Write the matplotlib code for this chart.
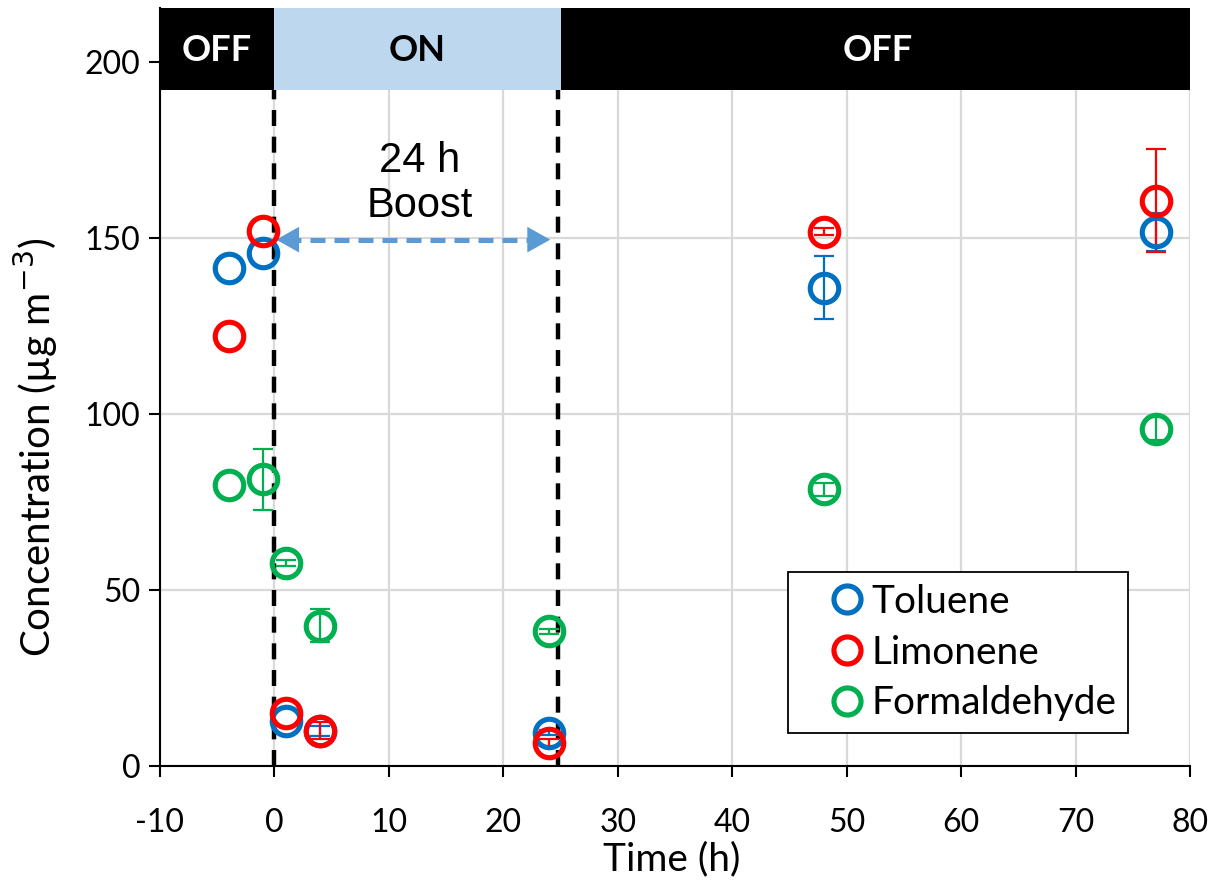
import matplotlib
matplotlib.use("Agg")
import matplotlib.pyplot as plt
import numpy as np

plt.rcParams["axes.unicode_minus"] = False

# ---- data ----
time_h = [-4, -1, 1, 4, 24, 48, 77]
toluene = [141.4, 145.6, 12.8, 10.0, 9.5, 135.9, 151.8]
toluene_err = [0, 0, 0, 1.5, 0.8, 9.0, 5.4]
limonene = [122.2, 152.0, 15.1, 10.0, 6.6, 151.7, 160.6]
limonene_err = [0, 0, 0, 2.4, 1.0, 1.0, 14.6]
formaldehyde = [79.8, 81.4, 57.6, 39.9, 38.2, 78.6, 95.8]
formaldehyde_err = [0, 8.7, 0.8, 4.7, 0.6, 1.8, 3.3]

series_names = ["Toluene", "Limonene", "Formaldehyde"]
series_colors = ["#0070c0", "#ff0000", "#00b050"]

band_labels = ["OFF", "ON", "OFF"]
band_edges = [-10, 0, 25, 80]
boost_start, boost_end = 0, 24.8
annot_text = "24 h\nBoost"

xticks = list(range(-10, 81, 10))
yticks = [0, 50, 100, 150, 200]

FONT = "Lato"

fig = plt.figure(figsize=(12.25, 8.88), dpi=100)
ax = fig.add_axes([0.1306, 0.1374, 0.9714 - 0.1306, 0.991 - 0.1374])

ymax = 215.3
band_low = 192.0
ax.set_xlim(-10, 80)
ax.set_ylim(0, ymax)

# grid
ax.set_xticks(xticks)
ax.set_yticks(yticks)
ax.grid(True, color="#d9d9d9", lw=1.6, zorder=0)
ax.set_axisbelow(True)

# band
ax.axhspan(band_low, ymax, color="black", zorder=5, lw=0)
ax.fill_between([band_edges[1], band_edges[2]], band_low, ymax, color="#bdd7ee", zorder=6, lw=0)
band_text_colors = ["white", "black", "white"]
centers = [-5.0, 12.5, 52.7]
for lab, cx, c in zip(band_labels, centers, band_text_colors):
    ax.text(cx, 203.2, lab, ha="center", va="center", color=c, fontsize=26,
            fontweight="bold", family=FONT, zorder=7)

# dashed lines
for xv in [boost_start, boost_end]:
    ax.plot([xv, xv], [0, band_low], color="black", lw=3.2, ls=(0, (3.6, 2.4)), zorder=3)

# double arrow
arrow_y = 149.5
acol = "#5b9bd5"
ax.plot([1.0, 23.0], [arrow_y, arrow_y], color=acol, lw=3.6, ls=(0, (3.0, 1.8)), zorder=3)
hs = "-|>,head_length=0.75,head_width=0.42"
ax.annotate("", xy=(0.15, arrow_y), xytext=(1.8, arrow_y),
            arrowprops=dict(arrowstyle=hs, color=acol, lw=0,
                            shrinkA=0, shrinkB=0, mutation_scale=22), zorder=4)
ax.annotate("", xy=(24.1, arrow_y), xytext=(22.4, arrow_y),
            arrowprops=dict(arrowstyle=hs, color=acol, lw=0,
                            shrinkA=0, shrinkB=0, mutation_scale=22), zorder=4)
ax.text(12.7, 165.5, annot_text, ha="center", va="center", fontsize=30,
        family="Liberation Sans", linespacing=1.15, zorder=4)

# data
data = [(toluene, toluene_err), (limonene, limonene_err), (formaldehyde, formaldehyde_err)]
handles = []
for (vals, errs), name, col in zip(data, series_names, series_colors):
    idx = [i for i, e in enumerate(errs) if e > 0]
    ax.errorbar([time_h[i] for i in idx], [vals[i] for i in idx],
                yerr=[errs[i] for i in idx], fmt="none", ecolor=col, elinewidth=1.6,
                capsize=7.5, capthick=1.6, zorder=8)
    h, = ax.plot(time_h, vals, ls="none", marker="o", ms=20.5, mfc="none", mec=col,
                 mew=3.7, label=name, zorder=9)
    handles.append(h)

leg = ax.legend(handles=handles, loc="lower right", bbox_to_anchor=(0.940, 0.0435),
                frameon=True, fancybox=False, edgecolor="black", framealpha=1,
                prop=dict(family=FONT, size=28), handlelength=2.4, handletextpad=-0.56,
                borderpad=0.3, labelspacing=0.38, markerscale=0.95, borderaxespad=0)
leg.get_frame().set_linewidth(1.3)
leg.set_zorder(10)

# spines
for s in ["top", "right"]:
    ax.spines[s].set_visible(False)
for s in ["left", "bottom"]:
    ax.spines[s].set_color("black")
    ax.spines[s].set_linewidth(1.5)
    ax.spines[s].set_zorder(11)

ax.tick_params(axis="both", direction="out", length=8, width=1.5, color="black",
               labelsize=23, pad=6)
for lab in ax.get_xticklabels() + ax.get_yticklabels():
    lab.set_family(FONT)
ax.tick_params(axis="x", pad=22)

ax.set_xlabel("Time (h)", fontsize=28, family=FONT)
ax.set_ylabel("Concentration (µg m$^{-3}$)", fontsize=29, family=FONT)
ax.xaxis.set_label_coords(0.497, -0.1)
ax.yaxis.set_label_coords(-0.097, 0.42)

fig.savefig("out.png", dpi=100)
